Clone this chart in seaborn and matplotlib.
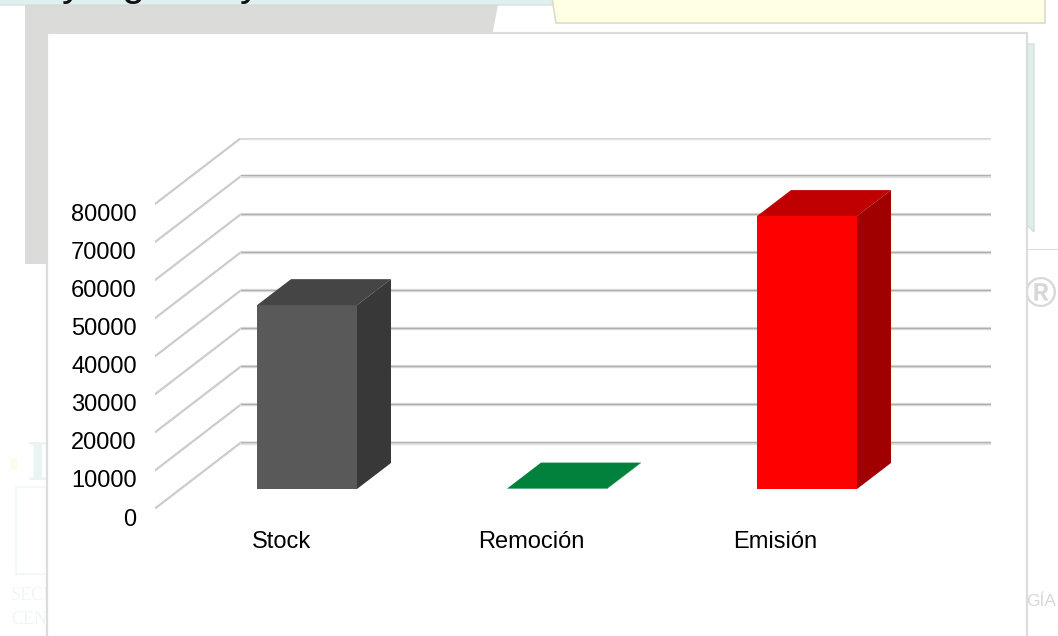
import matplotlib
matplotlib.use("Agg")
import matplotlib.pyplot as plt
import matplotlib.transforms as mtrans
from matplotlib.patches import Polygon
import seaborn as sns

categories = ["Stock", "Remoción", "Emisión"]
values = [48300, 100, 71700]
y_ticks = [0, 10000, 20000, 30000, 40000, 50000, 60000, 70000, 80000]
front_colors = ["#595959", "#00a650", "#ff0000"]
top_colors = ["#454545", "#00823c", "#c00000"]
side_colors = ["#383838", "#00703a", "#a00000"]

W, H = 1058, 636
sns.set_theme(style="white")
plt.rcParams["font.family"] = ["Liberation Sans", "DejaVu Sans"]

fig = plt.figure(figsize=(W / 100, H / 100), dpi=100, facecolor="white")


# background slide bits, given in pixels of the picture
def fpts(pts):
    return [(x / W, 1 - y / H) for x, y in pts]


def shape(pts, fc, ec="none", lw=0, z=0):
    fig.add_artist(Polygon(fpts(pts), closed=True, facecolor=fc, edgecolor=ec,
                           linewidth=lw, transform=fig.transFigure, zorder=z))


def ftext(x, y, s, color, size, z=0, **kw):
    fig.text(x / W, 1 - y / H, s, color=color, fontsize=size, zorder=z, **kw)


shape([(25, 5), (498, 5), (492, 36), (492, 264), (25, 264)], "#dbdbd9")
shape([(-2, -2), (571, -2), (569, 5), (-2, 5)], "#dff1ef", ec="#d0d6d4", lw=0.7)
shape([(552, -2), (1045, -2), (1045, 23), (556, 23)], "#ffffe4", ec="#dcdccb", lw=1.2)
shape([(1027, 44), (1034, 44), (1034, 232), (1027, 225)], "#dfeeeb", ec="#d4d9d7", lw=0.8)
shape([(1027, 249), (1058, 249), (1058, 250), (1027, 250)], "#dcdcdc")
shape([(16, 487), (47, 487), (47, 574), (16, 574)], "none", ec="#eef8f5", lw=1.2)
shape([(10, 458), (17, 458), (17, 470), (10, 470)], "#fefce8")
ftext(1040, 296, "®", "#d8d8d8", 31, ha="center", va="center", fontweight="bold")
ftext(1041, 601, "GÍA", "#d8d8d8", 12.5, ha="center", va="center")
ftext(26, 466, "I", "#e8f5f2", 40, ha="left", va="center", family="Liberation Serif", fontweight="bold")
ftext(11, 596, "SECR", "#f0f6f4", 13, ha="left", va="center", family="Liberation Serif")
ftext(11, 620, "CEN", "#f0f6f4", 13, ha="left", va="center", family="Liberation Serif")
ftext(62, -5, "y", "#111111", 30, ha="left", va="baseline")
ftext(121, -5, "g", "#111111", 30, ha="left", va="baseline")
ftext(240, -5, "y", "#111111", 30, ha="left", va="baseline")
shape([(47, 33), (1027, 33), (1027, 640), (47, 640)], "white", ec="#dcdcdc", lw=1.6, z=0.5)

# plot area: left/right end of the gridlines, front zero up to the back top gridline
ax = fig.add_axes([155 / W, 1 - 508.5 / H, (991 - 155) / W, (508.5 - 138) / H], zorder=2)
ax.patch.set_alpha(0)

px_x = 250.0  # pixels per category
px_y = (508.5 - 204) / 80000  # pixels per unit
wall_dx, wall_dy = 86 / px_x, 66 / px_y
bar_dx, bar_dy = 34 / px_x, 26 / px_y
bar_base = 19.5 / px_y
bar_width = 0.4

xmin = (155 - 307) / px_x
xmax = (991 - 307) / px_x

# walls
for t in y_ticks:
    back = t + wall_dy
    ax.plot([xmin, xmin + wall_dx], [t, back], color="#cccccc", lw=1.6, solid_capstyle="round", zorder=1)
    ax.plot([xmin + wall_dx, xmax], [back, back], color="#e0e0e0", lw=2.4, solid_capstyle="round", zorder=1)
    ax.plot([xmin + wall_dx, xmax], [back + 0.6 / px_y, back + 0.6 / px_y], color="#b0b0b0", lw=1.0, zorder=1.1)

sns.barplot(x=categories, y=values, hue=categories, palette=front_colors, width=bar_width,
            legend=False, saturation=1, ax=ax, zorder=3)

for i, p in enumerate(ax.patches):
    p.set_y(bar_base)
    p.set_linewidth(0)
    left = i - bar_width / 2
    right = i + bar_width / 2
    low = bar_base
    top = bar_base + values[i]
    ax.add_patch(Polygon([(left, top), (right, top), (right + bar_dx, top + bar_dy), (left + bar_dx, top + bar_dy)],
                         closed=True, facecolor=top_colors[i], edgecolor="none", zorder=3))
    ax.add_patch(Polygon([(right, low), (right + bar_dx, low + bar_dy), (right + bar_dx, top + bar_dy), (right, top)],
                         closed=True, facecolor=side_colors[i], edgecolor="none", zorder=3))

ax.set_xlim(xmin, xmax)
ax.set_ylim(0, (508.5 - 138) / px_y)
ax.set_xlabel("")
ax.set_ylabel("")
ax.set_yticks(y_ticks)
ax.set_yticklabels([str(t) for t in y_ticks])
ax.set_xticks(range(len(categories)))
ax.set_xticklabels(categories)
ax.tick_params(axis="y", length=0, pad=13.2, labelsize=17, labelcolor="black")
ax.tick_params(axis="x", length=0, pad=16.4, labelsize=17, labelcolor="black")
sns.despine(ax=ax, left=True, bottom=True)

# labels sit a bit off the tick positions in the original
for lab in ax.get_yticklabels():
    lab.set_transform(lab.get_transform() + mtrans.Affine2D().translate(0, -8.5))
for lab, off in zip(ax.get_xticklabels(), [-25.5, -26, -31.5]):
    lab.set_transform(lab.get_transform() + mtrans.Affine2D().translate(off, 0))

fig.savefig("out.png", dpi=100)
